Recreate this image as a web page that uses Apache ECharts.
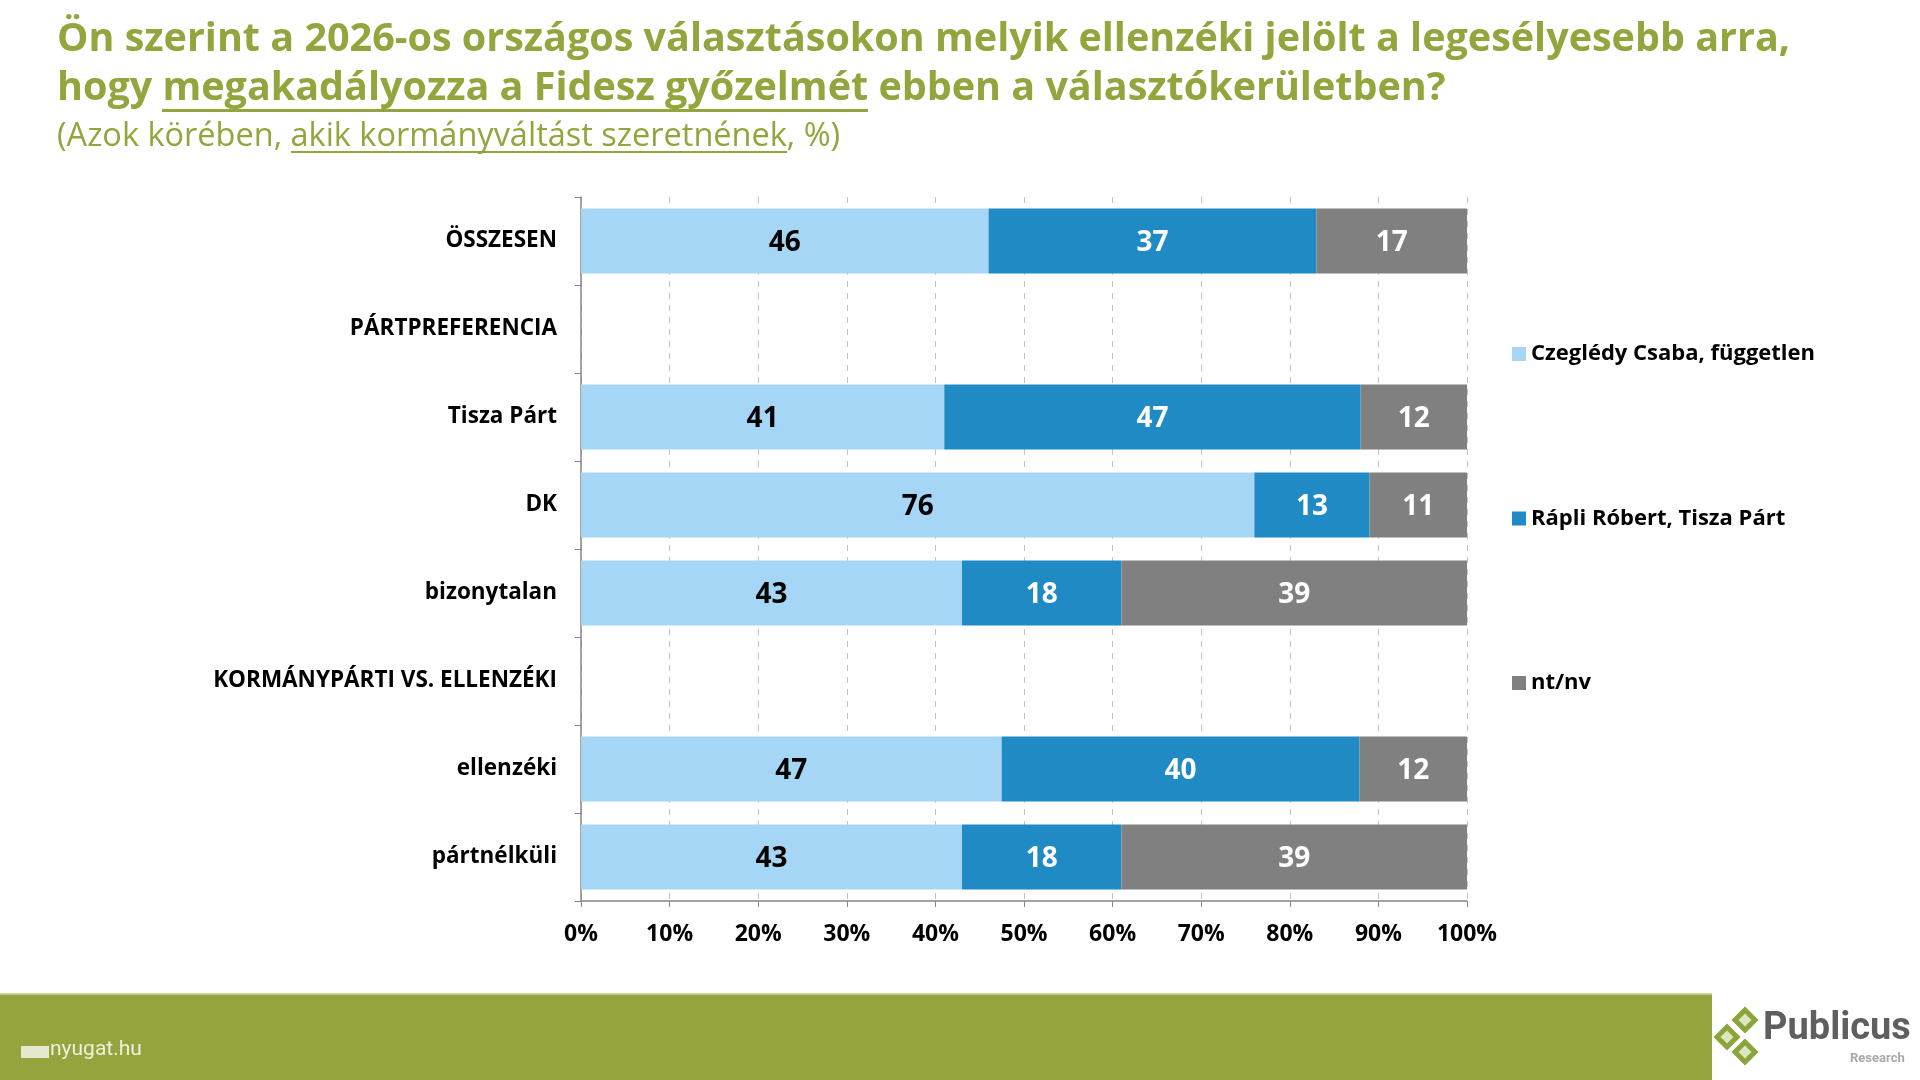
<!DOCTYPE html>
<html>
<head>
<meta charset="utf-8">
<script src="https://cdn.jsdelivr.net/npm/echarts@6/dist/echarts.min.js"></script>
<style>
  html, body { margin: 0; padding: 0; background: #fff; }
  #chart { width: 1920px; height: 1080px; }
</style>
</head>
<body>
<div id="chart"></div>
<script>
// csoportok (felülről lefelé)
const categories = ['ÖSSZESEN', 'PÁRTPREFERENCIA', 'Tisza Párt', 'DK', 'bizonytalan',
  'KORMÁNYPÁRTI VS. ELLENZÉKI', 'ellenzéki', 'pártnélküli']
const seriesNames = ['Czeglédy Csaba, független', 'Rápli Róbert, Tisza Párt', 'nt/nv']
// null = fejléc sor, nincs adat
const czegledy = [46, null, 41, 76, 43, null, 47, 43]
const rapli = [37, null, 47, 13, 18, null, 40, 18]
const ntnv = [17, null, 12, 11, 39, null, 12, 39]
const xTicks = [0, 10, 20, 30, 40, 50, 60, 70, 80, 90, 100]

const colors = ['#a6d6f6', '#1f8ac4', '#808080']
const labelColors = ['#000', '#fff', '#fff']
const green = '#93a53d'
const labelFont = '"Open Sans", "Noto Sans", sans-serif'

// 100%-os halmozott sáv: sorösszegre normalizálva, a felirat az eredeti szám
const raw = [czegledy, rapli, ntnv]
const rowSum = categories.map((c, i) => raw.reduce((s, arr) => s + (arr[i] || 0), 0))
const toPct = (arr) => arr.map((v, i) => v == null ? null : {value: v / rowSum[i] * 100, shown: v})

// aláhúzás: átlátszó kép alul egy csíkkal, rich szöveg háttereként
const underlineImg = (h, y0, thick) => {
  let c = document.createElement('canvas')
  c.width = 4
  c.height = h
  let g = c.getContext('2d')
  g.fillStyle = green
  g.fillRect(0, y0, 4, thick)
  return c
}

const titleSize = 39.5
const subSize = 32.5
const titleH = 48
const subH = 40
const titleRich = (extra) => Object.assign({
  fontFamily: labelFont, fontWeight: 'bold', fontSize: titleSize, fill: green, height: titleH, lineHeight: titleH
}, extra || {})
const subRich = (extra) => Object.assign({
  fontFamily: labelFont, fontWeight: 'normal', fontSize: subSize, fill: green, height: subH, lineHeight: subH
}, extra || {})

let chart = echarts.init(document.getElementById('chart'))

let option = {
  animation: false,
  grid: {left: 581, right: 453, top: 197, bottom: 179, containLabel: false},
  legend: {
    orient: 'vertical',
    left: 1507,
    top: 338,
    itemWidth: 14,
    itemHeight: 14,
    itemGap: 142.5,
    icon: 'rect',
    data: seriesNames,
    textStyle: {fontFamily: labelFont, fontWeight: 'bold', fontSize: 22, color: '#000', lineHeight: 20}
  },
  xAxis: {
    type: 'value',
    min: 0,
    max: 100,
    interval: 10,
    axisLine: {show: true, lineStyle: {color: '#868686', width: 1.5}},
    axisTick: {show: true, length: 6, lineStyle: {color: '#868686'}},
    axisLabel: {
      formatter: '{value}%', margin: 22, color: '#000',
      fontFamily: labelFont, fontWeight: 'bold', fontSize: 23
    },
    splitLine: {show: true, lineStyle: {color: '#c4c4c4', type: [6, 6], width: 1}}
  },
  yAxis: {
    type: 'category',
    inverse: true,
    data: categories,
    axisLine: {show: true, lineStyle: {color: '#868686', width: 1.5}},
    axisTick: {show: true, length: 6, lineStyle: {color: '#868686'}},
    axisLabel: {
      margin: 24, color: '#000',
      fontFamily: labelFont, fontWeight: 'bold', fontSize: 22.5
    }
  },
  series: raw.map((arr, k) => ({
    name: seriesNames[k],
    type: 'bar',
    stack: 'total',
    barWidth: 65,
    data: toPct(arr),
    itemStyle: {color: colors[k]},
    label: {
      show: true,
      position: 'inside',
      offset: [0, 2],
      formatter: (p) => p.data && p.data.shown != null ? String(p.data.shown) : '',
      color: labelColors[k],
      fontFamily: labelFont,
      fontWeight: 'bold',
      fontSize: 28
    }
  })),
  graphic: [
    // cím
    {type: 'text', left: 57, top: 16, style: {
      text: '{n|Ön szerint a 2026-os országos választásokon melyik ellenzéki jelölt a legesélyesebb arra,}',
      rich: {n: titleRich()}}},
    {type: 'text', left: 57, top: 65, style: {
      text: '{n|hogy }{u|megakadályozza a Fidesz győzelmét}{n| ebben a választókerületben?}',
      rich: {
        n: titleRich(),
        u: titleRich({backgroundColor: {image: underlineImg(titleH, 44, 3)}})
      }}},
    {type: 'text', left: 57, top: 117, style: {
      text: '{n|(Azok körében, }{u|akik kormányváltást szeretnének}{n|, %)}',
      rich: {
        n: subRich(),
        u: subRich({backgroundColor: {image: underlineImg(subH, 34, 2)}})
      }}},

    // lábléc
    {type: 'rect', shape: {x: 0, y: 994, width: 1712, height: 86}, style: {fill: '#97a43d'}},
    {type: 'rect', shape: {x: 0, y: 993, width: 1712, height: 2}, style: {fill: '#c9d08f'}},
    {type: 'rect', shape: {x: 21, y: 1046, width: 28, height: 12}, style: {fill: '#e4e8cf'}},
    {type: 'text', left: 50, top: 1039, style: {
      text: 'nyugat.hu', font: '21px "Liberation Sans Narrow", "Roboto"', fill: '#eef0dc'}},

    // Publicus logó
    {type: 'polygon', shape: {points: [[1745, 1010], [1755, 1020], [1745, 1030], [1735, 1020]]},
      style: {fill: '#dde6bd', stroke: '#8aa53a', lineWidth: 5}},
    {type: 'polygon', shape: {points: [[1727, 1027], [1737, 1037], [1727, 1047], [1717, 1037]]},
      style: {fill: '#dde6bd', stroke: '#8aa53a', lineWidth: 5}},
    {type: 'polygon', shape: {points: [[1745, 1042], [1755, 1052], [1745, 1062], [1735, 1052]]},
      style: {fill: '#dde6bd', stroke: '#8aa53a', lineWidth: 5}},
    {type: 'text', left: 1763, top: 1010, style: {
      text: 'Publicus', font: 'bold 38px "Liberation Sans Narrow", "Roboto"', fill: '#5f5f5f'}},
    {type: 'text', left: 1850, top: 1052, style: {
      text: 'Research', font: 'bold 13px "Roboto"', fill: '#a9a9a9'}}
  ]
}

chart.setOption(option, true)
</script>
</body>
</html>
